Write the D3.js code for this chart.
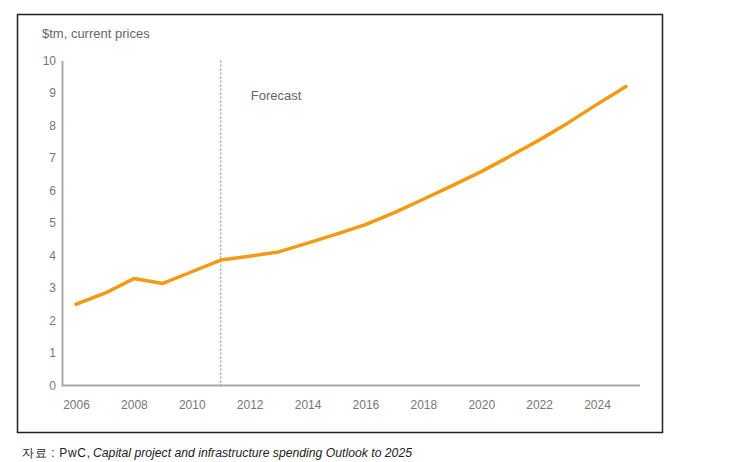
<!DOCTYPE html>
<html><head><meta charset="utf-8">
<script src="https://cdn.jsdelivr.net/npm/d3@7"></script>
<style>body{margin:0;background:#fff}svg{display:block}</style>
</head><body>
<svg id="c" width="733" height="462"></svg>
<script>
const years = [2006,2007,2008,2009,2010,2011,2012,2013,2014,2015,2016,2017,2018,2019,2020,2021,2022,2023,2024,2025];
const spending = [2.5,2.84,3.29,3.14,3.5,3.86,3.98,4.11,4.38,4.66,4.95,5.32,5.73,6.15,6.58,7.06,7.55,8.08,8.65,9.2];
const yTicks = [0,1,2,3,4,5,6,7,8,9,10];
const xTicks = [2006,2008,2010,2012,2014,2016,2018,2020,2022,2024];
const forecastYear = 2011;

const svg = d3.select("#c");
const font = "'Liberation Sans', Arial, sans-serif";
svg.append("rect").attr("x",17.5).attr("y",14.5).attr("width",645).attr("height",418)
  .attr("fill","none").attr("stroke","#222").attr("stroke-width",1.5);

const x = d3.scaleLinear().domain([2006,2024]).range([76,597]);
const y = d3.scaleLinear().domain([0,10]).range([385.5,60.5]);

// title
svg.append("text").attr("x",42).attr("y",38).text("$tm, current prices")
  .attr("font-family",font).attr("font-size",13).attr("fill","#666");

// axes
const yAxis = svg.append("g").attr("transform","translate(62,0)")
  .call(d3.axisLeft(y).tickValues(yTicks).tickSize(0).tickPadding(6));
yAxis.select(".domain").attr("stroke","#aaa").attr("stroke-width",2);
yAxis.selectAll("text").attr("font-family",font).attr("font-size",12).attr("fill","#777");

const xAxis = svg.append("g").attr("transform","translate(0,385.5)")
  .call(d3.axisBottom(x).tickValues(xTicks).tickFormat(d3.format("d")).tickSize(0).tickPadding(15));
xAxis.select(".domain").attr("d","M62,0H640").attr("stroke","#aaa").attr("stroke-width",2);
xAxis.selectAll("text").attr("font-family",font).attr("font-size",12).attr("fill","#777");

// forecast divider
svg.append("line").attr("x1",x(forecastYear)).attr("x2",x(forecastYear))
  .attr("y1",y(10)).attr("y2",y(0)).attr("stroke","#999").attr("stroke-width",1.2)
  .attr("stroke-dasharray","2,2");
svg.append("text").attr("x",x(forecastYear)+30).attr("y",100).text("Forecast")
  .attr("font-family",font).attr("font-size",13).attr("fill","#666");

// line
const data = years.map((yr,i)=>({yr, v: spending[i]}));
svg.append("path").datum(data)
  .attr("d", d3.line().x(d=>x(d.yr)).y(d=>y(d.v)))
  .attr("fill","none").attr("stroke","#F39A14").attr("stroke-width",3.5)
  .attr("stroke-linejoin","round").attr("stroke-linecap","round");

// source
const src = svg.append("text").attr("y",457)
  .attr("font-family",font).attr("font-size",12).attr("fill","#222");
src.append("tspan").attr("x",22).attr("textLength",68).attr("lengthAdjust","spacing").text("자료 : PwC,");
src.append("tspan").attr("x",93).attr("font-style","italic").attr("textLength",319)
  .attr("lengthAdjust","spacingAndGlyphs")
  .text("Capital project and infrastructure spending Outlook to 2025");
</script>
</body></html>
